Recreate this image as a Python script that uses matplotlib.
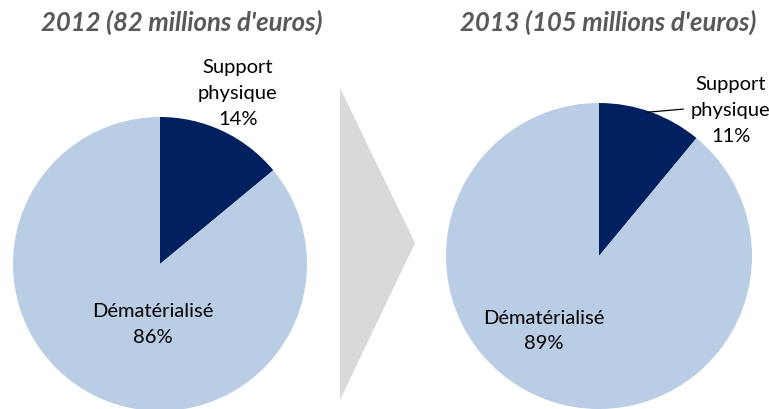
import numpy as np
import matplotlib.pyplot as plt
from matplotlib.patches import Polygon

plt.rcParams['font.family'] = ['Lato', 'DejaVu Sans']

years = ["2012", "2013"]
totals = [82, 105]
categories = ["Support physique", "Dématérialisé"]
shares_2012 = [14, 86]
shares_2013 = [11, 89]
colors = ["#002060", "#b9cde5"]

fig = plt.figure(figsize=(7.69, 4.09), dpi=100)
W, H = 769, 409

def pie_axes(cx, cy, r):
    # pixel centre/radius -> figure fraction axes
    return fig.add_axes([(cx - r) / W, (H - cy - r) / H, 2 * r / W, 2 * r / H])

lab = dict(ha='center', va='center', fontsize=14.5, linespacing=1.62, clip_on=False)

# left pie
ax1 = pie_axes(160, 264, 147)
ax1.pie(shares_2012, colors=colors, startangle=90, counterclock=False,
        radius=1, wedgeprops=dict(linewidth=0))
ax1.set_xlim(-1, 1); ax1.set_ylim(-1, 1)
ax1.set_aspect('equal'); ax1.axis('off')
ax1.text(0.53, 1.16, "Support\nphysique\n%d%%" % shares_2012[0], **lab)
ax1.text(-0.05, -0.41, "Dématérialisé\n%d%%" % shares_2012[1], **lab)

# right pie
ax2 = pie_axes(599, 256, 153)
ax2.pie(shares_2013, colors=colors, startangle=90, counterclock=False,
        radius=1, wedgeprops=dict(linewidth=0))
ax2.set_xlim(-1, 1); ax2.set_ylim(-1, 1)
ax2.set_aspect('equal'); ax2.axis('off')
ax2.text(0.86, 0.95, "Support\nphysique\n%d%%" % shares_2013[0], **lab)
ax2.text(-0.36, -0.49, "Dématérialisé\n%d%%" % shares_2013[1], **lab)
ax2.plot([0.32, 0.55], [0.94, 0.96], color='black', lw=0.9, clip_on=False)

# arrow between the two pies
arrow = Polygon([(340 / W, (H - 88) / H), (415 / W, (H - 243) / H), (340 / W, (H - 400) / H)],
                closed=True, facecolor='#d9d9d9', edgecolor='none', transform=fig.transFigure)
fig.patches.append(arrow)

# titles
for x, y, t in [(182, 22, 0), (608, 22, 1)]:
    fig.text(x / W, 1 - y / H, "%s (%d millions d'euros)" % (years[t], totals[t]),
             ha='center', va='center', fontsize=18.5, fontweight='bold', fontstyle='italic',
             color='#595959')

fig.savefig("out.png", dpi=100)
